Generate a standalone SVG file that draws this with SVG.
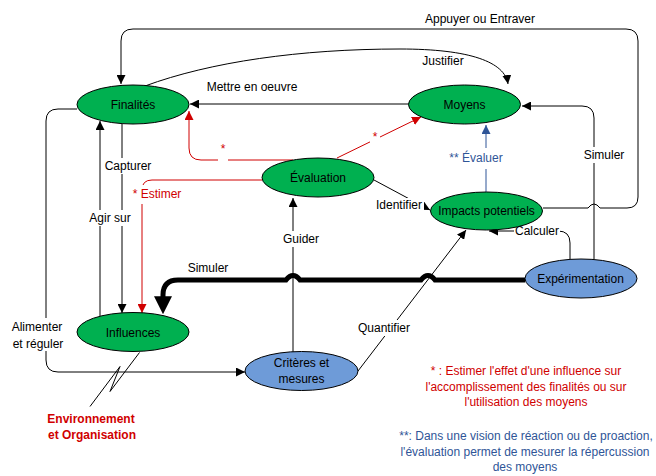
<svg xmlns="http://www.w3.org/2000/svg" width="656" height="476" viewBox="0 0 656 476">
<style>
text{font-family:"Liberation Sans",Arial,sans-serif;font-size:12px;text-anchor:middle;fill:#000}
.g{fill:#00b050;stroke:#000;stroke-width:1}
.b{fill:#6e9bd8;stroke:#000;stroke-width:1}
.c{fill:none;stroke:#000;stroke-width:1}
.r{fill:none;stroke:#d00000;stroke-width:1}
.bl{fill:none;stroke:#2f5597;stroke-width:1}
.red{fill:#d00000}
.blue{fill:#2f5597}
.bg{fill:#fff}
</style>
<defs>
<marker id="ab" viewBox="0 0 10 10" refX="10" refY="5" markerWidth="9" markerHeight="9" markerUnits="userSpaceOnUse" orient="auto"><path d="M0,0 L10,5 L0,10 z" fill="#000"/></marker>
<marker id="ar" viewBox="0 0 10 10" refX="10" refY="5" markerWidth="9" markerHeight="9" markerUnits="userSpaceOnUse" orient="auto"><path d="M0,0 L10,5 L0,10 z" fill="#d00000"/></marker>
<marker id="abl" viewBox="0 0 10 10" refX="10" refY="5" markerWidth="9" markerHeight="9" markerUnits="userSpaceOnUse" orient="auto"><path d="M0,0 L10,5 L0,10 z" fill="#2f5597"/></marker>
<marker id="abig" viewBox="0 0 10 10" refX="1" refY="5" markerWidth="18" markerHeight="18" markerUnits="userSpaceOnUse" orient="auto"><path d="M0,0 L10,5 L0,10 z" fill="#000"/></marker>
</defs>

<g id="connectors">
  <!-- Appuyer ou Entraver -->
  <path class="c" d="M543,208 H588 Q594,200 600,208 H627 Q638,208 638,197 V41 Q638,29 626,29 H133 Q121,29 121,41 V84" marker-end="url(#ab)"/>
  <text x="480" y="23">Appuyer ou Entraver</text>
  <!-- Justifier -->
  <path class="c" d="M145,86 C210,62 300,49 400,49 C470,49 505,62 508,84" marker-end="url(#ab)"/>
  <text x="443" y="65">Justifier</text>
  <!-- Mettre en oeuvre -->
  <path class="c" d="M409,104 H190" marker-end="url(#ab)"/>
  <text x="252" y="91">Mettre en oeuvre</text>
  <!-- Evaluer -->
  <path class="bl" d="M486,192 V125" marker-end="url(#abl)"/>
  <rect class="bg" x="445" y="148" width="62" height="21"/>
  <text x="476" y="162" class="blue">** Évaluer</text>
  <!-- Simuler to Moyens -->
  <path class="c" d="M594,259 V118 Q594,106 582,106 H522" marker-end="url(#ab)"/>
  <rect class="bg" x="582" y="147" width="44" height="16"/>
  <text x="604" y="159">Simuler</text>
  <!-- Calculer -->
  <path class="c" d="M570,260 V243 Q570,231 558,231 H489" marker-end="url(#ab)"/>
  <rect class="bg" x="514" y="224" width="46" height="15"/>
  <text x="537" y="235">Calculer</text>
  <!-- Identifier -->
  <path class="c" d="M374,180 L430,210" marker-end="url(#ab)"/>
  <rect class="bg" x="375" y="198" width="49" height="14"/>
  <text x="399" y="209">Identifier</text>
  <!-- Guider -->
  <path class="c" d="M293,352 V198" marker-end="url(#ab)"/>
  <rect class="bg" x="282" y="231" width="38" height="16"/>
  <text x="301" y="243">Guider</text>
  <!-- Quantifier -->
  <path class="c" d="M358,371 L466,230" marker-end="url(#ab)"/>
  <rect class="bg" x="358" y="320" width="53" height="16"/>
  <text x="384" y="332">Quantifier</text>
  <!-- Simuler thick -->
  <path fill="none" stroke="#000" stroke-width="5" d="M525,280 H435 Q428,271 421,280 H300 Q293,271 286,280 H178 Q163,280 163,295 V298" marker-end="url(#abig)"/>
  <text x="208" y="272">Simuler</text>
  <!-- Capturer -->
  <path class="c" d="M122,124 V313" marker-end="url(#ab)"/>
  <rect class="bg" x="103" y="158" width="50" height="16"/>
  <text x="128" y="170">Capturer</text>
  <!-- Agir sur -->
  <path class="c" d="M100,316 V121" marker-end="url(#ab)"/>
  <rect class="bg" x="88" y="210" width="44" height="16"/>
  <text x="110" y="222">Agir sur</text>
  <!-- Estimer (red) -->
  <path class="r" d="M262,180 H152 Q142,180 142,190 V313" marker-end="url(#ar)"/>
  <rect class="bg" x="129" y="185" width="56" height="19"/>
  <text x="157" y="198" class="red">* Estimer</text>
  <!-- red * to Finalites -->
  <path class="r" d="M293,160 H201 Q189,160 189,148 V111" marker-end="url(#ar)"/>
  <rect class="bg" x="218" y="155" width="10" height="9"/>
  <text x="223" y="153" class="red">*</text>
  <!-- red * to Moyens -->
  <path class="r" d="M337,158 L421,117" marker-end="url(#ar)"/>
  <rect class="bg" x="370" y="135" width="10" height="9"/>
  <text x="375" y="141" class="red">*</text>
  <!-- Alimenter et reguler -->
  <path class="c" d="M77,109 H58 Q46,109 46,121 V360 Q46,372 58,372 H245" marker-end="url(#ab)"/>
  <rect class="bg" x="11" y="318" width="53" height="33"/>
  <text x="37" y="331">Alimenter</text>
  <text x="38" y="348">et réguler</text>
  <!-- Environnement lightning -->
  <polyline class="c" points="139.5,352.5 110,391.5 120,366.5 90,406.5"/>
</g>

<g id="finalites"><ellipse class="g" cx="133" cy="104.5" rx="56" ry="19.5"/><text x="133" y="109">Finalités</text></g>
<g id="moyens"><ellipse class="g" cx="464.5" cy="104.5" rx="56" ry="19.5"/><text x="464.5" y="109">Moyens</text></g>
<g id="evaluation"><ellipse class="g" cx="318" cy="177.5" rx="56" ry="19.5"/><text x="318" y="182">Évaluation</text></g>
<g id="impacts"><ellipse class="g" cx="486.5" cy="211" rx="56" ry="19"/><text x="486.5" y="215">Impacts potentiels</text></g>
<g id="experimentation"><ellipse class="b" cx="581" cy="278.5" rx="56" ry="19.5"/><text x="580.5" y="283">Expérimentation</text></g>
<g id="influences"><ellipse class="g" cx="133" cy="332" rx="56" ry="19.5"/><text x="133" y="336.5">Influences</text></g>
<g id="criteres"><ellipse class="b" cx="301.5" cy="371" rx="56.5" ry="19.5"/><text x="301.5" y="367">Critères et</text><text x="301.5" y="383">mesures</text></g>

<g id="environnement">
  <text x="91" y="423" class="red" font-weight="bold">Environnement</text>
  <text x="92" y="439" class="red" font-weight="bold">et Organisation</text>
</g>

<g id="notes">
  <text x="526" y="375" class="red">* : Estimer l'effet d'une influence sur</text>
  <text x="526" y="391" class="red">l'accomplissement des finalités ou sur</text>
  <text x="526" y="406" class="red">l'utilisation des moyens</text>
  <text x="526" y="440" class="blue">**: Dans une vision de réaction ou de proaction,</text>
  <text x="525" y="456" class="blue">l'évaluation permet de mesurer la répercussion</text>
  <text x="525" y="471" class="blue">des moyens</text>
</g>
</svg>
